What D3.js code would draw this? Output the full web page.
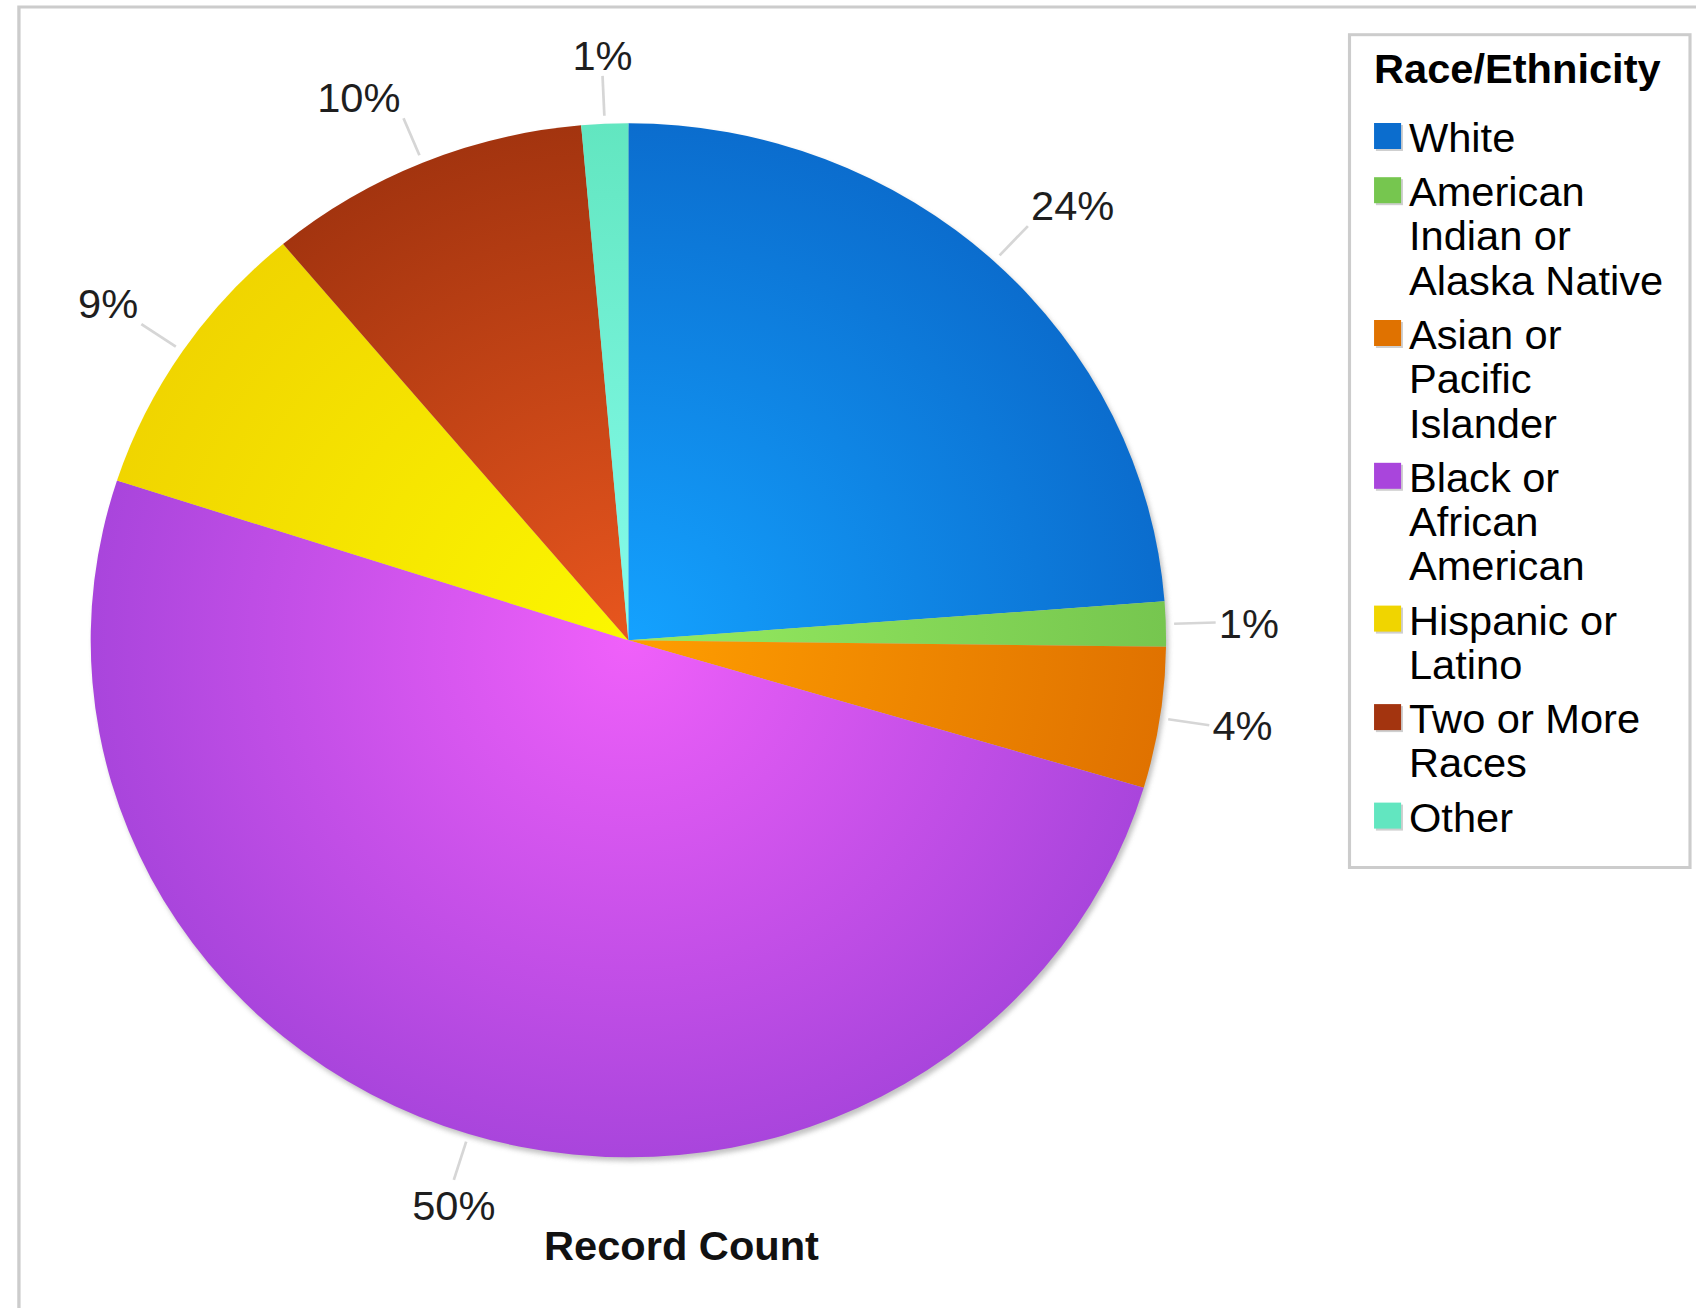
<!DOCTYPE html>
<html>
<head>
<meta charset="utf-8">
<script src="https://cdn.jsdelivr.net/npm/d3@7"></script>
<style>
  html, body { margin: 0; padding: 0; background: #fff; }
  svg { display: block; }
  text { font-family: "Liberation Sans", Arial, sans-serif; }
</style>
</head>
<body>
<svg id="chart" width="1696" height="1308"></svg>
<script>
// Race/Ethnicity share of record count (percent)
const categories = [
  "White",
  "American Indian or Alaska Native",
  "Asian or Pacific Islander",
  "Black or African American",
  "Hispanic or Latino",
  "Two or More Races",
  "Other"
];
const values = [23.8, 1.4, 4.4, 50.4, 8.9, 9.7, 1.4];

// flat legend colours, plus light centre tones for the slice gradients
const edgeColors   = ["#0b6dce", "#76c64f", "#e07200", "#a945dc", "#f0d500", "#a3340f", "#62e6c0"];
const centerColors = ["#14a2ff", "#96ec60", "#ff9e00", "#f060fa", "#fcf700", "#e8561e", "#86fcec"];

const legendTitle = "Race/Ethnicity";
const axisTitle = "Record Count";

const W = 1696, H = 1308;
const sx = 1.04;               // horizontal stretch of the whole drawing
const IW = W / sx;

const svg = d3.select("#chart");
svg.append("rect").attr("width", W).attr("height", H).attr("fill", "#fff");

const defs = svg.append("defs");
const blur = defs.append("filter").attr("id", "shadowBlur")
  .attr("x", "-10%").attr("y", "-10%").attr("width", "120%").attr("height", "120%");
blur.append("feGaussianBlur").attr("stdDeviation", 2.5);

const root = svg.append("g").attr("transform", `scale(${sx},1)`);

// outer frame (left and top edges)
root.append("path")
  .attr("d", `M18.2,${H} L18.2,7 L${IW},7`)
  .attr("fill", "none").attr("stroke", "#cccccc").attr("stroke-width", 3.2);

// ---- pie ----
const cx = 604.2, cy = 640.3, r = 517;
const total = d3.sum(values);
const data = categories.map((c, i) => ({ name: c, value: values[i], i }));

const pie = d3.pie().sort(null).value(d => d.value).startAngle(0).endAngle(2 * Math.PI);
const arcs = pie(data);
const arc = d3.arc().innerRadius(0).outerRadius(r);

arcs.forEach((a, i) => {
  const g = defs.append("radialGradient")
    .attr("id", "grad" + i)
    .attr("gradientUnits", "userSpaceOnUse")
    .attr("cx", 0).attr("cy", 0).attr("r", r);
  g.append("stop").attr("offset", "0%").attr("stop-color", centerColors[i]);
  g.append("stop").attr("offset", "100%").attr("stop-color", edgeColors[i]);
});

const pg = root.append("g").attr("transform", `translate(${cx},${cy})`);

// soft shadow beneath the pie
pg.append("circle")
  .attr("cx", 2.5).attr("cy", 4).attr("r", r)
  .attr("fill", "#a8a8a8").attr("opacity", 0.7)
  .attr("filter", "url(#shadowBlur)");

pg.selectAll("path.slice")
  .data(arcs)
  .join("path")
  .attr("class", "slice")
  .attr("d", arc)
  .attr("fill", (d, i) => `url(#grad${i})`);

// ---- percentage labels with leader lines ----
const lead0 = r + 8, lead1 = r + 48;
arcs.forEach(a => {
  const m = (a.startAngle + a.endAngle) / 2;
  const s = Math.sin(m), c = -Math.cos(m);
  const x0 = s * lead0, y0 = c * lead0;
  const x1 = s * lead1, y1 = c * lead1;
  pg.append("line")
    .attr("x1", x0).attr("y1", y0).attr("x2", x1).attr("y2", y1)
    .attr("stroke", "#d6d6d6").attr("stroke-width", 2.6);

  let anchor = "middle", tx = x1;
  if (s > 0.3) { anchor = "start"; tx = x1 + 3; }
  else if (s < -0.3) { anchor = "end"; tx = x1 - 3; }
  let ty;
  if (c < -0.3) ty = y1 - 6;
  else if (c > 0.3) ty = y1 + 40;
  else ty = y1 + 15;

  const pct = Math.round(a.data.value / total * 100);
  pg.append("text")
    .attr("x", tx).attr("y", ty)
    .attr("text-anchor", anchor)
    .attr("font-size", 40)
    .attr("fill", "#1e1e1e")
    .text(pct + "%");
});

// axis-style title under the pie
root.append("text")
  .attr("x", 655.3).attr("y", 1260)
  .attr("text-anchor", "middle")
  .attr("font-size", 40).attr("font-weight", "bold")
  .attr("fill", "#111")
  .text(axisTitle);

// ---- legend ----
const lx = 1297.6, ly = 34.7, lw = 327.4, lh = 832.8;
root.append("rect")
  .attr("x", lx).attr("y", ly).attr("width", lw).attr("height", lh)
  .attr("fill", "#fff").attr("stroke", "#cccccc").attr("stroke-width", 3);

const lg = root.append("g");
lg.append("text")
  .attr("x", 1321.2).attr("y", 83.5)
  .attr("font-size", 40).attr("font-weight", "bold")
  .attr("fill", "#000")
  .text(legendTitle);

const textX = 1354.8, maxW = 262, lineH = 44.3, entryGap = 54.2;

function wrap(label) {
  const words = label.split(" ");
  const probe = lg.append("text").attr("font-size", 40).attr("visibility", "hidden");
  const lines = [];
  let cur = "";
  words.forEach(w => {
    const test = cur ? cur + " " + w : w;
    probe.text(test);
    if (cur && probe.node().getComputedTextLength() > maxW) {
      lines.push(cur);
      cur = w;
    } else {
      cur = test;
    }
  });
  if (cur) lines.push(cur);
  probe.remove();
  return lines;
}

let base = 152;
categories.forEach((name, i) => {
  const lines = wrap(name);
  lg.append("rect")
    .attr("x", 1323).attr("y", base - 27).attr("width", 26).attr("height", 26)
    .attr("fill", "#cfcfcf");
  lg.append("rect")
    .attr("x", 1321.2).attr("y", base - 29).attr("width", 26).attr("height", 26)
    .attr("fill", edgeColors[i]);
  const t = lg.append("text")
    .attr("x", textX).attr("y", base)
    .attr("font-size", 40).attr("fill", "#000");
  lines.forEach((ln, j) => {
    t.append("tspan").attr("x", textX).attr("y", base + j * lineH).text(ln);
  });
  base += (lines.length - 1) * lineH + entryGap;
});
</script>
</body>
</html>
